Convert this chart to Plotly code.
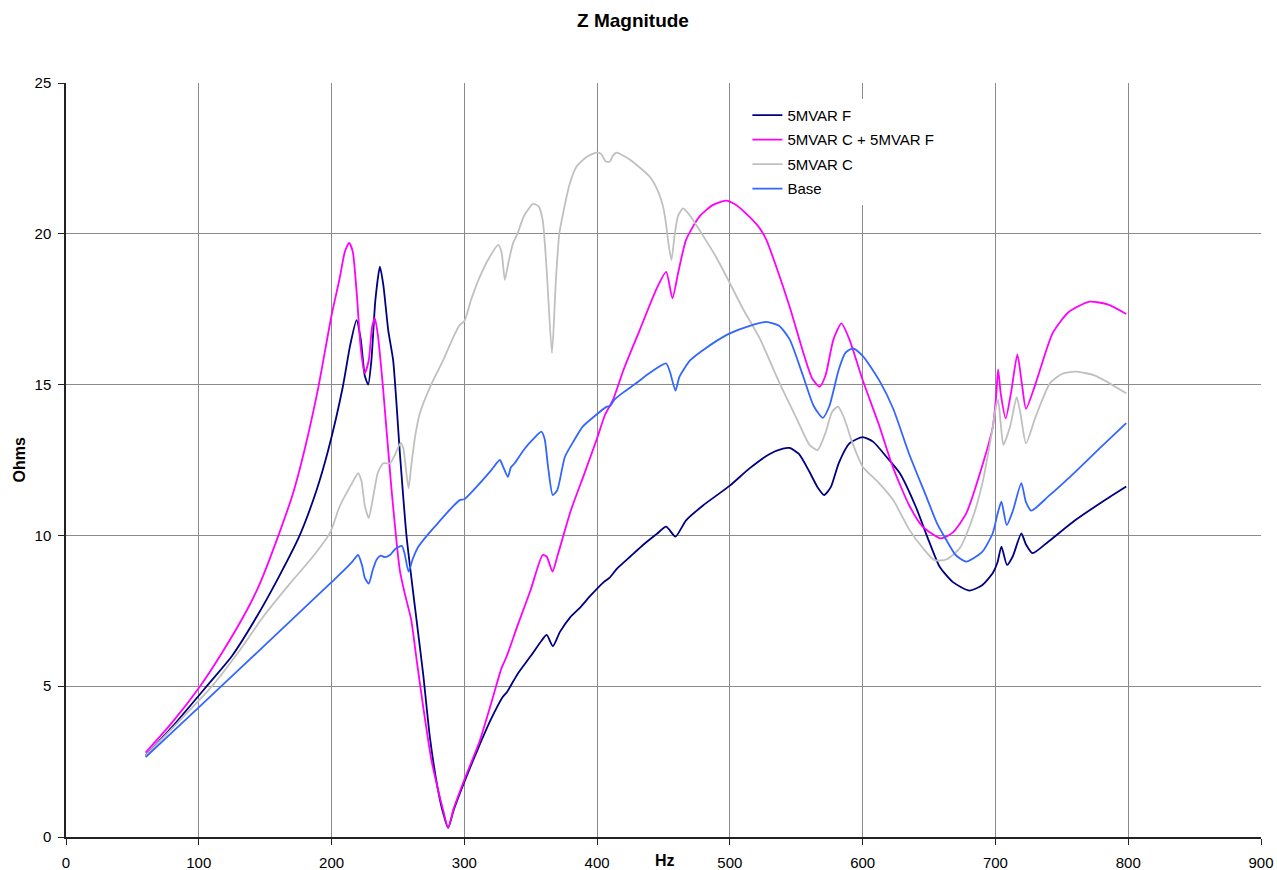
import plotly.graph_objects as go

# ---- data ----
f_hz = [60, 80, 106, 125, 143.6, 160, 176, 188.7, 197.5, 208.5, 214, 218.8, 222, 225, 227.6, 230, 233, 236.4, 239,
        242.7, 246.4, 251.5, 256.5, 264, 269, 274, 280, 284, 287.8, 292, 300, 310, 320, 329, 332, 340, 350, 358,
        362, 366.7, 372, 380, 387, 395, 405, 409.5, 415, 425, 435, 445, 452, 459, 467, 480, 500, 515, 530, 540,
        545, 552, 560, 566, 571, 576, 582, 590, 600, 608, 618, 628, 640, 650, 658, 668, 680.5, 690, 698, 701.5,
        704.5, 708.7, 713, 719.5, 723, 728, 740, 760, 780, 798.5]
f_z = [2.7, 3.65, 5.0, 6.0, 7.3, 8.6, 10.0, 11.5, 12.83, 14.93, 16.3, 17.14, 16.5, 15.3, 15.0, 15.8, 17.8, 18.91, 18.3,
       16.8, 15.8, 12.7, 9.96, 7.2, 5.4, 3.33, 1.6, 0.8, 0.3, 0.9, 1.83, 2.9, 3.9, 4.65, 4.8, 5.4, 6.0, 6.5,
       6.7, 6.33, 6.8, 7.3, 7.6, 8.0, 8.45, 8.6, 8.9, 9.3, 9.7, 10.05, 10.29, 9.96, 10.5, 11.0, 11.65, 12.23,
       12.7, 12.88, 12.9, 12.7, 12.1, 11.6, 11.34, 11.6, 12.4, 13.05, 13.26, 13.1, 12.6, 12.06, 10.95, 9.8,
       8.96, 8.45, 8.17, 8.35, 8.75, 9.1, 9.63, 9.02, 9.3, 10.07, 9.7, 9.41, 9.8, 10.5, 11.1, 11.62]

cf_hz = [60, 80, 101, 116, 136, 146, 160, 171, 180, 190, 200, 206, 210, 213.3, 216, 219, 222, 225, 228, 230.5,
         232.6, 235, 238.7, 245, 251.4, 255, 260, 264, 269, 275, 280, 284, 287.8, 292, 300, 311.7, 320, 328, 332,
         340, 350, 359, 362, 366.4, 370, 374.4, 380, 390, 399.5, 406, 412, 420, 432, 445, 452, 456.7, 461, 467,
         477, 487, 497, 505, 515, 522.5, 527.5, 535, 545, 555, 562, 567.6, 572, 578, 584, 590, 600, 612, 622.6,
         635, 645, 659, 668, 678, 690, 698, 700.5, 702, 704, 707.7, 712, 716.5, 720, 723, 730, 743, 755, 771,
         785, 798.5]
cf_z = [2.8, 3.8, 5.0, 6.0, 7.5, 8.4, 10.0, 11.4, 12.9, 14.9, 17.3, 18.5, 19.4, 19.7, 19.4, 18.0, 16.2, 15.38, 15.8,
        16.9, 17.2, 16.6, 14.93, 11.6, 8.85, 8.1, 7.2, 5.9, 4.32, 2.6, 1.6, 0.9, 0.3, 0.95, 1.9, 3.2, 4.4, 5.6,
        6.0, 7.0, 8.2, 9.35, 9.3, 8.8, 9.3, 9.96, 10.8, 12.0, 13.16, 14.0, 14.5, 15.5, 16.8, 18.2, 18.74, 17.86,
        18.7, 19.8, 20.57, 20.95, 21.1, 20.95, 20.55, 20.18, 19.8, 18.9, 17.58, 16.1, 15.2, 14.93, 15.3, 16.5,
        17.03, 16.5, 15.15, 13.7, 12.28, 11.0, 10.3, 9.9, 10.1, 10.73, 12.3, 13.6, 14.6, 15.5, 14.7, 13.88,
        14.8, 16.0, 15.0, 14.2, 15.0, 16.7, 17.4, 17.75, 17.65, 17.34]

c_hz = [60, 80, 110, 131, 148.5, 168.6, 186, 199, 206, 215, 220, 222.5, 225, 228, 231, 235, 239, 244, 248, 252,
        254, 256, 258, 260, 263, 266.5, 275, 284, 292, 296.6, 300, 305, 311.7, 318, 325.5, 328, 330.5, 333,
        336.7, 340, 345, 351.8, 356, 359, 362, 366, 369, 371.5, 374.4, 379, 384.5, 392, 399.5, 403, 406.5,
        409.5, 412, 414.6, 425, 439.7, 446, 449.7, 452, 454, 456, 458.5, 461, 464.7, 470, 477, 490, 500, 510,
        522.5, 537.5, 550, 560, 566, 572, 577, 581.4, 586, 592, 600, 612, 623, 635, 645, 654, 663, 673, 683,
        690, 698, 700.5, 702, 704, 706, 711, 716, 719, 723, 730, 741, 750, 760, 775, 798.5]
c_z = [2.7, 3.6, 5.0, 6.2, 7.3, 8.4, 9.3, 10.1, 10.95, 11.7, 12.06, 11.8, 11.0, 10.57, 11.2, 12.1, 12.39, 12.39,
       12.7, 13.07, 12.9, 12.2, 11.56, 12.3, 13.3, 14.05, 15.0, 15.8, 16.6, 16.98, 17.1, 17.8, 18.58, 19.15,
       19.63, 19.4, 18.47, 19.0, 19.69, 20.0, 20.6, 20.99, 20.9, 20.46, 18.8, 16.04, 18.5, 20.0, 20.68, 21.6,
       22.23, 22.55, 22.69, 22.65, 22.4, 22.39, 22.6, 22.69, 22.45, 21.89, 21.4, 20.9, 20.3, 19.6, 19.13, 20.0,
       20.6, 20.84, 20.6, 20.13, 19.2, 18.36, 17.5, 16.53, 15.04, 13.9, 13.0, 12.83, 13.4, 14.1, 14.27, 13.9,
       13.1, 12.28, 11.75, 11.17, 10.2, 9.6, 9.18, 9.2, 9.57, 10.6, 11.7, 13.6, 14.3, 14.5, 13.7, 13.0, 13.6,
       14.58, 14.0, 13.05, 13.9, 15.04, 15.35, 15.43, 15.3, 14.71]

b_hz = [60, 100, 150, 200, 210, 216, 220, 223, 225, 228, 231, 234, 237, 240, 244, 248, 253, 255, 258, 261, 265,
        272, 280, 290, 296.6, 300, 310, 320, 326.7, 329, 332.8, 335, 338, 345, 352, 358, 360.5, 363, 366.6, 370,
        375.7, 382, 389, 398, 407, 410, 413, 420, 429.6, 440, 452, 455, 459, 462, 470, 480, 490, 500, 515,
        527.5, 537, 545, 555, 563, 570, 575, 582, 587, 592.6, 600, 613, 623, 635, 648, 656, 663, 670, 678, 690,
        698, 701.5, 704.5, 708.5, 713, 719.5, 723, 727, 740, 760, 780, 798.5]
b_z = [2.65, 4.3, 6.37, 8.45, 8.87, 9.15, 9.35, 9.0, 8.6, 8.4, 8.85, 9.2, 9.33, 9.28, 9.35, 9.55, 9.65, 9.4,
       8.8, 9.2, 9.6, 10.0, 10.4, 10.9, 11.17, 11.2, 11.65, 12.15, 12.5, 12.3, 11.94, 12.25, 12.4, 12.85, 13.2,
       13.44, 13.2, 12.3, 11.34, 11.5, 12.6, 13.1, 13.6, 13.95, 14.26, 14.3, 14.5, 14.75, 15.05, 15.4, 15.7,
       15.4, 14.8, 15.26, 15.8, 16.15, 16.45, 16.7, 16.95, 17.08, 16.95, 16.5, 15.3, 14.3, 13.9, 14.3, 15.5,
       16.05, 16.2, 15.95, 15.1, 14.2, 12.7, 11.28, 10.4, 9.85, 9.35, 9.13, 9.45, 10.08, 10.7, 11.12, 10.34,
       10.8, 11.73, 11.1, 10.82, 11.3, 12.1, 12.95, 13.72]

series = [
    ("5MVAR F", f_hz, f_z, "#000080"),
    ("5MVAR C + 5MVAR F", cf_hz, cf_z, "#FF00FF"),
    ("5MVAR C", c_hz, c_z, "#C0C0C0"),
    ("Base", b_hz, b_z, "#3366FF"),
]

FONT = "Liberation Sans, Arial, sans-serif"

fig = go.Figure()
for i, (name, xs, ys, col) in enumerate(series):
    fig.add_trace(go.Scatter(
        x=xs, y=ys, name=name, mode="lines", legendgroup=str(i),
        line=dict(color=col, width=1.8, shape="spline", smoothing=0.6),
    ))

axis_common = dict(showgrid=True, gridcolor="#8a8a8a", gridwidth=1, showline=True, linecolor="#222222",
                   linewidth=1.5, ticks="outside", ticklen=6, tickcolor="#222222", zeroline=False,
                   automargin=False, tickfont=dict(family=FONT, size=15, color="black"))

fig.update_layout(
    width=1277, height=870,
    paper_bgcolor="white", plot_bgcolor="white",
    margin=dict(l=66, r=16, t=83, b=33, autoexpand=False),
    font=dict(family=FONT, size=15, color="black"),
    title=dict(text="<b>Z Magnitude</b>", x=0.4957, xref="container", xanchor="center",
               y=1 - 20 / 870, yref="container", yanchor="middle",
               font=dict(family=FONT, size=19, color="black")),
    showlegend=True,
    legend=dict(x=0.5702, y=0.979, xanchor="left", yanchor="top", bgcolor="white",
                borderwidth=0, font=dict(family=FONT, size=15), traceorder="grouped",
                tracegroupgap=2),
    xaxis=dict(range=[0, 900], dtick=100, tick0=0, ticklabelstandoff=5, **axis_common),
    yaxis=dict(range=[0, 25], dtick=5, tick0=0, ticklabelstandoff=4, **axis_common),
    annotations=[
        dict(text="<b>Hz</b>", xref="x", yref="paper", x=451, y=0, yshift=-23, showarrow=False,
             xanchor="center", yanchor="middle", font=dict(family=FONT, size=16)),
        dict(text="<b>Ohms</b>", xref="paper", yref="paper", x=(18.5 - 66) / 1195, y=1 - (460 - 83) / 754,
             textangle=-90, showarrow=False, xanchor="center", yanchor="middle",
             font=dict(family=FONT, size=16)),
    ],
)

fig.write_html("out.html", config={"displayModeBar": False},
               post_script="document.body.style.margin='0px';document.body.style.overflow='hidden';")
